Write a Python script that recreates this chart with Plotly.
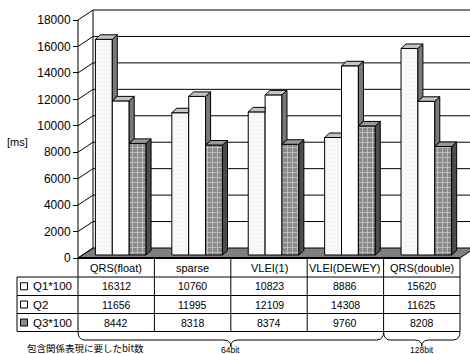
import plotly.graph_objects as go

# ---- data -------------------------------------------------------------
categories = ["QRS(float)", "sparse", "VLEI(1)", "VLEI(DEWEY)", "QRS(double)"]
series_names = ["Q1*100", "Q2", "Q3*100"]
q1_x100 = [16312, 10760, 10823, 8886, 15620]
q2 = [11656, 11995, 12109, 14308, 11625]
q3_x100 = [8442, 8318, 8374, 9760, 8208]
y_ticks = [0, 2000, 4000, 6000, 8000, 10000, 12000, 14000, 16000, 18000]
bit_labels = ["64bit", "128bit"]
bit_spans = [(0, 4), (4, 5)]
axis_title = "[ms]"
footnote = "包含関係表現に要したbit数"

series = [q1_x100, q2, q3_x100]

# ---- geometry helpers --------------------------------------------------
W, H = 470, 354
PX_X0 = 78.0          # front value axis (pixel x)
PX_CAT = 76.4         # width of one category (pixels)
PX_Y0 = 258.0         # floor front edge (pixel y of value 0)
PX_PER_MS = 238.0 / 18000.0


def xd(px):
    return (px - PX_X0) / PX_CAT


def ms(dpx):
    return dpx / PX_PER_MS


def yd(py):
    return (PX_Y0 - py) / PX_PER_MS


def xp(px):
    return px / W


def yp(py):
    return 1 - py / H


X_RANGE = [xd(0), xd(W)]
Y_RANGE = [yd(H), yd(0)]

# depth offsets of the 3-D frame
WALL_DX, WALL_DY = 15 / PX_CAT, ms(10)
BAR_BASE = ms(3)
SIDE_DX, SIDE_DY = 5 / PX_CAT, ms(4.5)
BAR_START, BAR_W = 0.228, 0.221

FONT = "Liberation Sans, Arial, sans-serif"
CJK = "Noto Sans CJK JP, sans-serif"

front_style = [
    dict(color="#f7f7f7", pattern=dict(shape="+", fgcolor="#d9d9d9", bgcolor="#fbfbfb", size=4, solidity=0.2)),
    dict(color="#ffffff"),
    dict(color="#8f8f8f", pattern=dict(shape="+", fgcolor="#ffffff", bgcolor="#8a8a8a", size=5, solidity=0.3)),
]
side_color = ["#7a7a7a", "#7a7a7a", "#4d4d4d"]
top_color = ["#c4c4c4", "#c4c4c4", "#9a9a9a"]

fig = go.Figure()

# front faces of the bars
for j, vals in enumerate(series):
    xs = [i + BAR_START + (j + 0.5) * BAR_W for i in range(len(categories))]
    fig.add_trace(go.Bar(
        x=xs, y=vals, base=BAR_BASE, width=BAR_W, name=series_names[j],
        marker=dict(line=dict(color="black", width=1), **front_style[j]),
        showlegend=False, hoverinfo="skip",
    ))

# right side faces and top faces, hidden where the next bar stands in front
for i in range(len(categories)):
    for j, vals in enumerate(series):
        L = i + BAR_START + j * BAR_W
        R = L + BAR_W
        top = vals[i] + BAR_BASE
        nxt = series[j + 1][i] + BAR_BASE if j + 1 < len(series) else None
        lo = BAR_BASE if nxt is None else max(BAR_BASE, nxt)
        if lo < top:
            fig.add_trace(go.Scatter(
                x=[R, R, R + SIDE_DX, R + SIDE_DX, R],
                y=[lo, top, top + SIDE_DY, lo + SIDE_DY, lo],
                mode="lines", fill="toself", fillcolor=side_color[j],
                line=dict(color="black", width=1), showlegend=False, hoverinfo="skip"))
        if nxt is None or nxt <= top:
            px_ = [L, R, R + SIDE_DX, L + SIDE_DX, L]
            py_ = [top, top, top + SIDE_DY, top + SIDE_DY, top]
        elif nxt >= top + SIDE_DY:
            px_ = [L, R, R, L + SIDE_DX, L]
            py_ = [top, top, top + SIDE_DY, top + SIDE_DY, top]
        else:
            f = (nxt - top) / SIDE_DY
            px_ = [L, R, R, R + SIDE_DX * f, R + SIDE_DX, L + SIDE_DX, L]
            py_ = [top, top, nxt, nxt, top + SIDE_DY, top + SIDE_DY, top]
        fig.add_trace(go.Scatter(
            x=px_, y=py_, mode="lines", fill="toself", fillcolor=top_color[j],
            line=dict(color="black", width=1), showlegend=False, hoverinfo="skip"))

shapes = []
n = len(categories)
ymax = y_ticks[-1]

# floor
shapes.append(dict(
    type="path", xref="x", yref="y", layer="below",
    path=f"M 0,0 L {n},0 L {n + WALL_DX},{WALL_DY} L {WALL_DX},{WALL_DY} Z",
    fillcolor="#7f7f7f", line=dict(color="black", width=1)))

# walls: gridlines on the back wall, diagonals on the side wall
for v in y_ticks:
    shapes.append(dict(type="line", xref="x", yref="y", layer="below",
                       x0=0, y0=v, x1=WALL_DX, y1=v + WALL_DY,
                       line=dict(color="black", width=1)))
    if v > 0:
        shapes.append(dict(type="line", xref="x", yref="y", layer="below",
                           x0=WALL_DX, y0=v + WALL_DY, x1=n + 1, y1=v + WALL_DY,
                           line=dict(color="black", width=1)))
shapes.append(dict(type="line", xref="x", yref="y", layer="below",
                   x0=WALL_DX, y0=WALL_DY, x1=WALL_DX, y1=ymax + WALL_DY,
                   line=dict(color="black", width=1)))
shapes.append(dict(type="line", xref="x", yref="y", layer="below",
                   x0=0, y0=0, x1=0, y1=ymax, line=dict(color="black", width=1)))
# floor front edge
shapes.append(dict(type="line", xref="x", yref="y",
                   x0=0, y0=0, x1=n, y1=0, line=dict(color="black", width=2)))

# ---- data table ----------------------------------------------------------
ROW_LINES = [277, 295.5, 313.5, 331.5]
TABLE_LEFT = xd(17)
for k, py in enumerate(ROW_LINES):
    shapes.append(dict(type="line", xref="x", yref="y",
                       x0=TABLE_LEFT, x1=n, y0=yd(py), y1=yd(py),
                       line=dict(color="black", width=1)))
for b in range(n + 1):
    shapes.append(dict(type="line", xref="x", yref="y",
                       x0=b, x1=b, y0=0, y1=yd(ROW_LINES[-1]),
                       line=dict(color="black", width=1)))
shapes.append(dict(type="line", xref="x", yref="y",
                   x0=TABLE_LEFT, x1=TABLE_LEFT, y0=yd(ROW_LINES[0]), y1=yd(ROW_LINES[-1]),
                   line=dict(color="black", width=1)))


def label(x, y, text, xref="paper", xanchor="center", size=11, family=FONT):
    return dict(x=x, y=y, xref=xref, yref="paper", text=text, showarrow=False,
                xanchor=xanchor, yanchor="middle",
                font=dict(family=family, size=size, color="black"))


annotations = []
for i, c in enumerate(categories):
    annotations.append(label(i + 0.5, yp(267.5), c, xref="x"))
key_fill = ["#ffffff", "#ffffff", "#8a8a8a"]
for j, vals in enumerate(series):
    cy = (ROW_LINES[j] + ROW_LINES[j + 1]) / 2
    shapes.append(dict(type="rect", xref="paper", yref="paper",
                       x0=xp(20.5), x1=xp(27.5), y0=yp(cy + 3.5), y1=yp(cy - 3.5),
                       fillcolor=key_fill[j], line=dict(color="black", width=1)))
    annotations.append(label(xp(31), yp(cy), series_names[j], xanchor="left", size=11.5))
    for i, v in enumerate(vals):
        annotations.append(label(i + 0.5, yp(cy), str(v), xref="x", size=10.5))


# braces under the table, one per bit-width group
def qbez(p0, p1, p2, steps=10):
    pts = []
    for s in range(steps + 1):
        t = s / steps
        x = (1 - t) ** 2 * p0[0] + 2 * (1 - t) * t * p1[0] + t * t * p2[0]
        y = (1 - t) ** 2 * p0[1] + 2 * (1 - t) * t * p1[1] + t * t * p2[1]
        pts.append((x, y))
    return pts


B_TOP, B_MID, B_TIP = yd(331.5), yd(340), yd(346.5)
for (a, b), lab in zip(bit_spans, bit_labels):
    m = (a + b) / 2
    d = 0.09
    pts = qbez((a, B_TOP), (a, B_MID), (a + d, B_MID))
    pts += qbez((m - d, B_MID), (m, B_MID), (m, B_TIP))
    pts += qbez((m, B_TIP), (m, B_MID), (m + d, B_MID))
    pts += qbez((b - d, B_MID), (b, B_MID), (b, B_TOP))
    fig.add_trace(go.Scatter(
        x=[p[0] for p in pts], y=[p[1] for p in pts], mode="lines",
        line=dict(color="black", width=1), showlegend=False, hoverinfo="skip"))
    annotations.append(label(m, yp(349.5), lab, xref="x", size=8.5))

annotations.append(label(xp(25), yp(347.5), footnote, xanchor="left", size=9.5, family=CJK))
annotations.append(label(xp(17.5), yp(142), axis_title, size=11))

fig.update_layout(
    width=W, height=H, margin=dict(l=0, r=0, t=0, b=0),
    paper_bgcolor="white", plot_bgcolor="white",
    barmode="overlay", showlegend=False,
    xaxis=dict(range=X_RANGE, visible=False, fixedrange=True),
    yaxis=dict(range=Y_RANGE, anchor="free", position=xp(PX_X0),
               tickvals=y_ticks, ticktext=[str(v) for v in y_ticks],
               ticks="outside", ticklen=5, tickcolor="black", tickwidth=1,
               showgrid=False, zeroline=False, showline=False,
               tickfont=dict(family=FONT, size=12, color="black"), fixedrange=True),
    shapes=shapes, annotations=annotations,
)

fig.write_html("out.html")
